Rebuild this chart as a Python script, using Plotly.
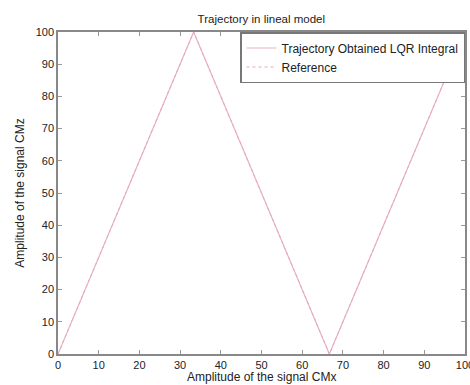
import plotly.graph_objects as go

x_traj = [0, 33.33, 66.67, 100]
y_traj = [0, 100, 0, 100]
x_ref = [0, 33.33, 66.67, 100]
y_ref = [0, 100, 0, 100]
ticks = [0, 10, 20, 30, 40, 50, 60, 70, 80, 90, 100]

fig = go.Figure()
fig.add_trace(go.Scatter(x=x_traj, y=y_traj, mode="lines",
                         name="Trajectory Obtained LQR Integral",
                         line=dict(color="#e6b3c0", width=1.2)))
fig.add_trace(go.Scatter(x=x_ref, y=y_ref, mode="lines",
                         name="Reference",
                         line=dict(color="#e8a8b8", width=1, dash="dot")))

FAM = "Liberation Sans, Arial, sans-serif"
font = dict(family=FAM, size=12, color="#222")
tfont = dict(family=FAM, size=11, color="#222")
axis_common = dict(range=[0, 100], tickvals=ticks, ticks="inside", ticklen=4,
                   tickcolor="#999", showline=True, linecolor="#888", linewidth=1.5,
                   mirror="ticks", showgrid=False, zeroline=False,
                   tickfont=tfont, fixedrange=True, ticklabeloverflow="allow",
                   automargin=False)
fig.update_layout(
    width=470, height=385,
    margin=dict(l=58, r=5, t=32, b=31),
    paper_bgcolor="white", plot_bgcolor="white",
    font=font,
    title=dict(text="Trajectory in lineal model", x=0.556, xanchor="center",
               y=0.952, yanchor="middle", font=dict(size=11.5, color="#222", family=FAM)),
    xaxis=dict(**axis_common),
    yaxis=dict(**axis_common, title=dict(text="Amplitude of the signal CMz",
               standoff=8, font=font)),
    legend=dict(x=1, y=1, xanchor="right", yanchor="top", bgcolor="white",
                bordercolor="#777", borderwidth=1.5,
                font=dict(size=12, color="#222", family=FAM),
                tracegroupgap=0, itemwidth=30),
    showlegend=True,
    annotations=[dict(text="Amplitude of the signal CMx", xref="paper", yref="paper",
                      x=0.5, y=-31/322, xanchor="center", yanchor="bottom",
                      showarrow=False, font=font, borderpad=0)],
)
fig.write_html("out.html")
